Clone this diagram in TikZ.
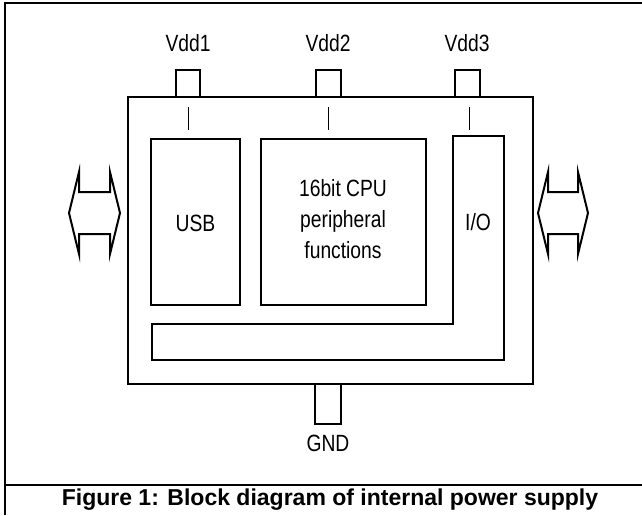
\documentclass[tikz,border=0pt]{standalone}
\usepackage{fontspec}
\setmainfont{Liberation Sans}
\newfontfamily\condfont[FakeStretch=0.82]{Liberation Sans}
\begin{document}
\begin{tikzpicture}[x=1pt,y=-1pt,
  thick/.style={line width=2pt},
  thinbox/.style={line width=1.2pt},
  lbl/.style={font=\condfont\fontsize{23.5}{31}\selectfont, inner sep=0pt, align=center},
  arrowshape/.style={line width=2pt, line join=miter}]
\useasboundingbox (0,0) rectangle (642,515);
% frame
\draw[line width=2pt] (642,3) -- (5,3) -- (5,515);
\draw[line width=2pt] (5,485) -- (642,485);
% pins
\draw[thick] (176,97) -- (176,70) -- (200,70) -- (200,97);
\draw[thick] (315.5,97) -- (315.5,70) -- (341,70) -- (341,97);
\draw[thick] (455,97) -- (455,70) -- (480,70) -- (480,97);
\draw[thick] (315,384) -- (315,424) -- (341,424) -- (341,384);
% chip
\draw[thick] (128,97) rectangle (533,384);
% ticks
\draw[line width=1pt] (188,107) -- (188,130);
\draw[line width=1pt] (328,107) -- (328,130);
\draw[line width=1pt] (469,107) -- (469,130);
% inner blocks
\draw[thinbox] (151,139) rectangle (240,305);
\draw[thinbox] (261,139) rectangle (426,305);
\draw[thinbox] (453,136) -- (504,136) -- (504,360) -- (152,360) -- (152,324) -- (453,324) -- cycle;
% labels
\node[lbl] (vdd1) at (188,43.5) {Vdd1};
\node[lbl] (vdd2) at (328,43.5) {Vdd2};
\node[lbl] (vdd3) at (467,43.5) {Vdd3};
\node[lbl] (usb) at (195.5,223) {USB};
\node[lbl] (cpu) at (343,219) {16bit CPU\\peripheral\\functions};
\node[lbl] (io) at (478,222) {I/O};
\node[lbl] (gnd) at (328,443) {GND};
% bidirectional arrows
\draw[arrowshape] (69,213) -- (79,172) -- (79,192) -- (110,192) -- (110,172) -- (120,213)
  -- (110,254) -- (110,234) -- (79,234) -- (79,254) -- cycle;
\draw[arrowshape] (538,213) -- (548,172) -- (548,192) -- (578,192) -- (578,172) -- (588,213)
  -- (578,254) -- (578,234) -- (548,234) -- (548,254) -- cycle;
% caption
\node[font=\bfseries\fontsize{23}{27}\selectfont, inner sep=0pt] (cap) at (330,500) {Figure 1: Block diagram of internal power supply};
\end{tikzpicture}
\end{document}
